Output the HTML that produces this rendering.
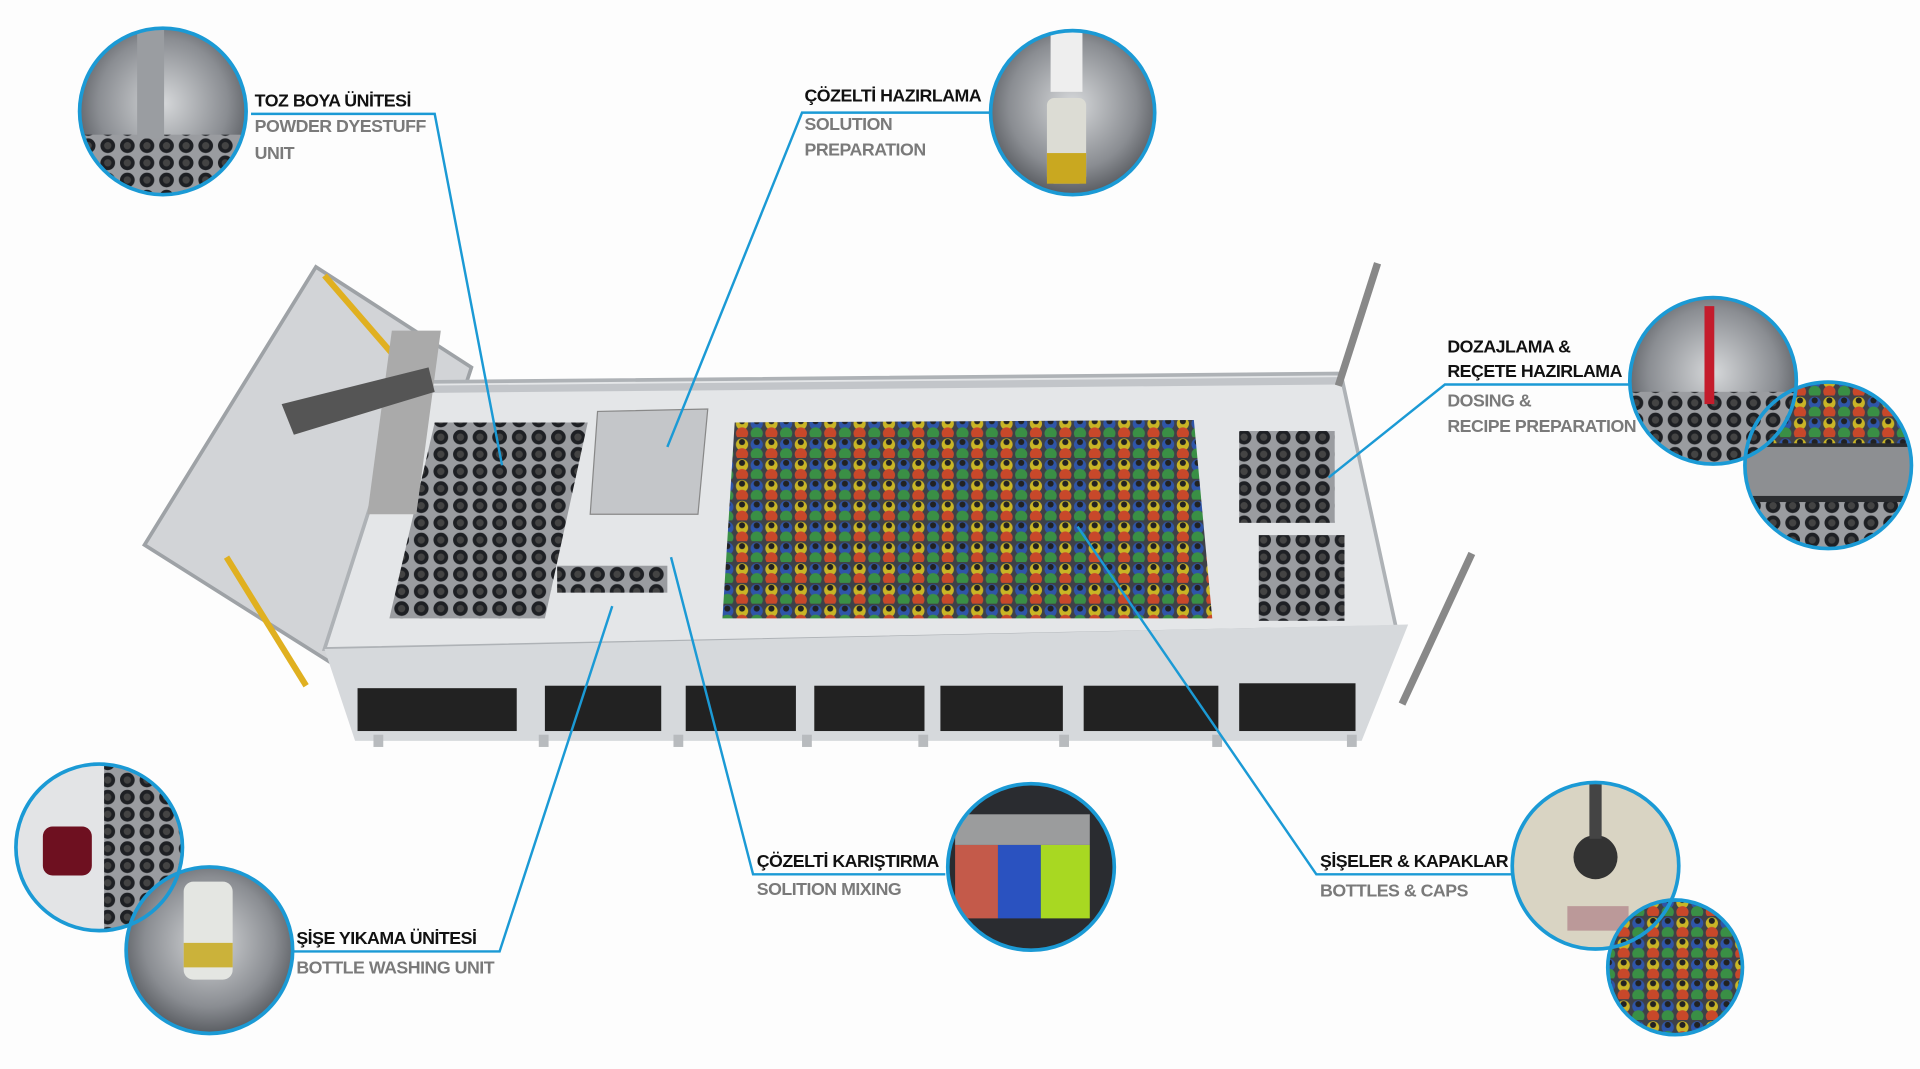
<!DOCTYPE html>
<html><head><meta charset="utf-8"><style>
html,body{margin:0;padding:0;background:#fdfdfd;}
svg{display:block}
.b{font-family:"Liberation Sans",sans-serif;font-weight:bold;font-size:14.5px;fill:#111;letter-spacing:-0.4px}
.g{font-family:"Liberation Sans",sans-serif;font-weight:bold;font-size:14.5px;fill:#7a7a7a;letter-spacing:-0.4px}
</style></head><body>
<svg width="1920" height="1069" viewBox="0 0 1568 873" preserveAspectRatio="none" xmlns="http://www.w3.org/2000/svg">
<defs>
<pattern id="bt" width="24" height="17" patternUnits="userSpaceOnUse">
<rect width="24" height="17" fill="#3e4148"/>
<circle cx="6" cy="6" r="5" fill="#c9b526"/><circle cx="18" cy="6" r="5" fill="#2f55a8"/>
<circle cx="6" cy="14" r="5" fill="#c8482a"/><circle cx="18" cy="14" r="5" fill="#3a8f45"/>
<circle cx="6" cy="4" r="2.5" fill="#222"/><circle cx="18" cy="4" r="2.5" fill="#222"/>
</pattern>
<pattern id="cup" width="16" height="14" patternUnits="userSpaceOnUse">
<rect width="16" height="14" fill="#9a9ca0"/><circle cx="8" cy="7" r="6" fill="#1e2024"/><circle cx="8" cy="7" r="3" fill="#444"/>
</pattern>
<radialGradient id="ph" cx="50%" cy="45%" r="65%"><stop offset="0" stop-color="#d6d8da"/><stop offset="0.6" stop-color="#8a8d92"/><stop offset="1" stop-color="#3c3f44"/></radialGradient>
<clipPath id="c1"><circle cx="133" cy="91" r="68"/></clipPath>
<clipPath id="c2"><circle cx="876" cy="92" r="67"/></clipPath>
<clipPath id="c3"><circle cx="1399" cy="311" r="68"/></clipPath>
<clipPath id="c4"><circle cx="1493" cy="380" r="68"/></clipPath>
<clipPath id="c5"><circle cx="81" cy="692" r="68"/></clipPath>
<clipPath id="c6"><circle cx="171" cy="776" r="68"/></clipPath>
<clipPath id="c7"><circle cx="842" cy="708" r="68"/></clipPath>
<clipPath id="c8"><circle cx="1303" cy="707" r="68"/></clipPath>
<clipPath id="c9"><circle cx="1368" cy="790" r="55"/></clipPath>
</defs>
<rect width="1568" height="873" fill="#fdfdfd"/>
<!-- machine -->
<polygon points="258,218 385,300 300,560 118,445" fill="#d2d4d7" stroke="#9ea2a6" stroke-width="3"/>
<polygon points="335,312 1095,305 1140,512 265,530" fill="#e4e6e8" stroke="#aeb2b6" stroke-width="3"/>
<line x1="335" y1="318" x2="1095" y2="311" stroke="#c2c5c9" stroke-width="6"/>
<polygon points="265,530 1150,510 1112,605 290,605" fill="#d6d9dc"/>
<g fill="#222">
<rect x="292" y="562" width="130" height="35"/><rect x="445" y="560" width="95" height="37"/>
<rect x="560" y="560" width="90" height="37"/><rect x="665" y="560" width="90" height="37"/>
<rect x="768" y="560" width="100" height="37"/><rect x="885" y="560" width="110" height="37"/>
<rect x="1012" y="558" width="95" height="39"/>
</g>
<g fill="#b8bbbe"><rect x="305" y="600" width="8" height="10"/><rect x="440" y="600" width="8" height="10"/><rect x="550" y="600" width="8" height="10"/><rect x="655" y="600" width="8" height="10"/><rect x="750" y="600" width="8" height="10"/><rect x="865" y="600" width="8" height="10"/><rect x="990" y="600" width="8" height="10"/><rect x="1100" y="600" width="8" height="10"/></g>
<polygon points="355,345 480,345 445,505 318,505" fill="url(#cup)"/>
<polygon points="488,336 578,334 570,420 482,420" fill="#c4c6c9" stroke="#888"/>
<rect x="455" y="462" width="90" height="22" fill="url(#cup)"/>
<polygon points="600,345 975,343 990,505 590,505" fill="url(#bt)"/>
<rect x="1012" y="352" width="78" height="75" fill="url(#cup)"/>
<rect x="1028" y="437" width="70" height="70" fill="url(#cup)"/>
<line x1="1125" y1="215" x2="1093" y2="315" stroke="#888" stroke-width="6"/>
<line x1="1202" y1="452" x2="1145" y2="575" stroke="#888" stroke-width="6"/>
<line x1="185" y1="455" x2="250" y2="560" stroke="#e0b020" stroke-width="5"/>
<line x1="265" y1="225" x2="330" y2="300" stroke="#e0b020" stroke-width="5"/>
<polygon points="320,270 360,270 340,420 300,420" fill="#aaa"/>
<polygon points="230,330 350,300 355,320 240,355" fill="#555"/>
<!-- circles -->
<g stroke="none">
<circle cx="133" cy="91" r="68" fill="url(#ph)"/>
<g clip-path="url(#c1)"><rect x="65" y="110" width="140" height="50" fill="url(#cup)"/><rect x="112" y="23" width="22" height="90" fill="#9a9da1"/></g>
<circle cx="876" cy="92" r="67" fill="url(#ph)"/>
<g clip-path="url(#c2)"><rect x="858" y="25" width="26" height="50" fill="#eee"/><rect x="855" y="80" width="32" height="70" rx="6" fill="#dcdcd4"/><rect x="855" y="125" width="32" height="25" fill="#c9a820"/></g>
<circle cx="1493" cy="380" r="68" fill="#2b2d30"/>
<g clip-path="url(#c4)"><rect x="1425" y="312" width="140" height="50" fill="url(#bt)"/><rect x="1425" y="365" width="140" height="40" fill="#8d8f92"/><rect x="1425" y="410" width="140" height="40" fill="url(#cup)"/></g>
<circle cx="1399" cy="311" r="68" fill="url(#ph)"/>
<g clip-path="url(#c3)"><rect x="1331" y="320" width="140" height="60" fill="url(#cup)"/><rect x="1392" y="250" width="8" height="80" fill="#c41c2c"/></g>
<circle cx="81" cy="692" r="68" fill="#e3e4e6"/>
<g clip-path="url(#c5)"><rect x="85" y="624" width="70" height="140" fill="url(#cup)"/><rect x="35" y="675" width="40" height="40" rx="8" fill="#6e1020"/></g>
<circle cx="171" cy="776" r="68" fill="url(#ph)"/>
<g clip-path="url(#c6)"><rect x="150" y="720" width="40" height="80" rx="8" fill="#e4e6e2"/><rect x="150" y="770" width="40" height="20" fill="#cbb23a"/></g>
<circle cx="842" cy="708" r="68" fill="#2a2c30"/>
<g clip-path="url(#c7)"><rect x="780" y="690" width="35" height="60" fill="#c45a4a"/><rect x="815" y="690" width="35" height="60" fill="#2a52c0"/><rect x="850" y="690" width="40" height="60" fill="#a8d822"/><rect x="780" y="665" width="110" height="25" fill="#ccc" opacity="0.7"/></g>
<circle cx="1303" cy="707" r="68" fill="#d9d4c3"/>
<g clip-path="url(#c8)"><circle cx="1303" cy="700" r="18" fill="#333"/><rect x="1298" y="640" width="10" height="45" fill="#444"/><rect x="1280" y="740" width="50" height="20" fill="#b99" /></g>
<circle cx="1368" cy="790" r="55" fill="url(#bt)"/>
</g>
<g stroke="#1b9ad5" stroke-width="3" fill="none">
<circle cx="133" cy="91" r="68"/><circle cx="876" cy="92" r="67"/>
<circle cx="1493" cy="380" r="68"/><circle cx="1399" cy="311" r="68"/>
<circle cx="81" cy="692" r="68"/><circle cx="171" cy="776" r="68"/>
<circle cx="842" cy="708" r="68"/>
<circle cx="1303" cy="707" r="68"/><circle cx="1368" cy="790" r="55"/>
</g>
<!-- connectors -->
<g stroke="#1b9ad5" stroke-width="2" fill="none">
<polyline points="205,93 355,93 410,380"/>
<polyline points="808,92 655,92 545,365"/>
<polyline points="1330,314 1180,314 1085,390"/>
<polyline points="772,714 615,714 548,455"/>
<polyline points="240,777 408,777 500,495"/>
<polyline points="1235,714 1075,714 880,430"/>
</g>
<!-- labels -->
<text class="b" x="208" y="87">TOZ BOYA ÜNİTESİ</text>
<text class="g" x="208" y="108">POWDER DYESTUFF</text>
<text class="g" x="208" y="130">UNIT</text>
<text class="b" x="657" y="83">ÇÖZELTİ HAZIRLAMA</text>
<text class="g" x="657" y="106">SOLUTION</text>
<text class="g" x="657" y="127">PREPARATION</text>
<text class="b" x="1182" y="288">DOZAJLAMA &amp;</text>
<text class="b" x="1182" y="308">REÇETE HAZIRLAMA</text>
<text class="g" x="1182" y="332">DOSING &amp;</text>
<text class="g" x="1182" y="353">RECIPE PREPARATION</text>
<text class="b" x="618" y="708">ÇÖZELTİ KARIŞTIRMA</text>
<text class="g" x="618" y="731">SOLITION MIXING</text>
<text class="b" x="242" y="771">ŞİŞE YIKAMA ÜNİTESİ</text>
<text class="g" x="242" y="795">BOTTLE WASHING UNIT</text>
<text class="b" x="1078" y="708">ŞİŞELER &amp; KAPAKLAR</text>
<text class="g" x="1078" y="732">BOTTLES &amp; CAPS</text>
</svg>
</body></html>
